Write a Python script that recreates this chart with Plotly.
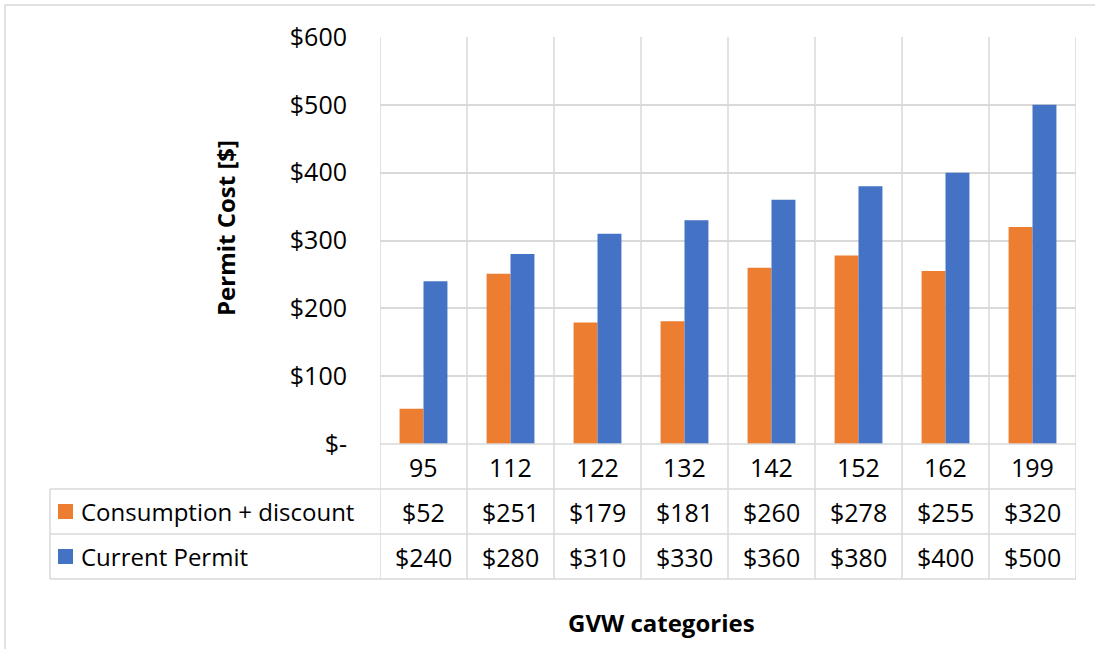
import plotly.graph_objects as go

categories = ["95", "112", "122", "132", "142", "152", "162", "199"]
consumption = [52, 251, 179, 181, 260, 278, 255, 320]
current = [240, 280, 310, 330, 360, 380, 400, 500]
series_names = ["Consumption + discount", "Current Permit"]
series_colors = ["#ED7D31", "#4472C4"]
y_tickvals = [0, 100, 200, 300, 400, 500, 600]
y_ticktext = ["$-", "$100", "$200", "$300", "$400", "$500", "$600"]

W, H = 1095, 649
FONT = "Open Sans"
GRID = "#D9D9D9"

def px(x):
    return x / W

def py(y):
    return 1 - y / H

plot_l, plot_r, plot_t, plot_b = 380, 1076, 37, 444
row_edges = [444, 489, 534, 579]
table_l = 50

fig = go.Figure()
for name, vals, col in zip(series_names, [consumption, current], series_colors):
    fig.add_trace(go.Bar(x=categories, y=vals, name=name, marker_color=col,
                         marker_line_width=0, showlegend=False, hoverinfo="skip"))

shapes = []
# outer chart border
shapes.append(dict(type="rect", xref="paper", yref="paper", x0=px(5), x1=px(1100),
                   y0=py(660), y1=py(5), line=dict(color=GRID, width=1.5)))
n = len(categories)
# vertical lines at category boundaries (through plot + table)
for i in range(n + 1):
    shapes.append(dict(type="line", xref="x", yref="paper", x0=i - 0.5, x1=i - 0.5,
                       y0=py(plot_t), y1=py(row_edges[-1]),
                       line=dict(color=GRID, width=1.5)))
# table horizontal lines
shapes.append(dict(type="line", xref="paper", yref="paper", x0=px(plot_l), x1=px(plot_r),
                   y0=py(row_edges[0]), y1=py(row_edges[0]), line=dict(color=GRID, width=1.5)))
for ry in row_edges[1:]:
    shapes.append(dict(type="line", xref="paper", yref="paper", x0=px(table_l), x1=px(plot_r),
                       y0=py(ry), y1=py(ry), line=dict(color=GRID, width=1.5)))
shapes.append(dict(type="line", xref="paper", yref="paper", x0=px(table_l), x1=px(table_l),
                   y0=py(row_edges[1]), y1=py(row_edges[3]), line=dict(color=GRID, width=1.5)))

annotations = []
numfont = dict(family=FONT, size=25, color="#000000")
txtfont = dict(family=FONT, size=24, color="#000000")
# category row
for i, c in enumerate(categories):
    annotations.append(dict(x=i, y=py((row_edges[0] + row_edges[1]) / 2), xref="x", yref="paper",
                            text=c, showarrow=False, font=numfont, xanchor="center", yanchor="middle"))
# series rows
for r, (name, vals, col) in enumerate(zip(series_names, [consumption, current], series_colors)):
    yc = (row_edges[r + 1] + row_edges[r + 2]) / 2
    shapes.append(dict(type="rect", xref="paper", yref="paper", x0=px(58), x1=px(73),
                       y0=py(yc - 7.5), y1=py(yc + 7.5), fillcolor=col, line=dict(width=0)))
    annotations.append(dict(x=px(79), y=py(yc), xref="paper", yref="paper", text=name,
                            showarrow=False, font=txtfont, xanchor="left", yanchor="middle"))
    for i, v in enumerate(vals):
        annotations.append(dict(x=i, y=py(yc), xref="x", yref="paper", text=f"${v}",
                                showarrow=False, font=numfont, xanchor="center", yanchor="middle"))

# axis titles
titlefont = dict(family=FONT, size=24, color="#000000")
annotations.append(dict(x=px(225), y=py(228), xref="paper", yref="paper", text="<b>Permit Cost [$]</b>",
                        textangle=-90, showarrow=False, font=titlefont,
                        xanchor="center", yanchor="middle"))
annotations.append(dict(x=px(661), y=py(622), xref="paper", yref="paper", text="<b>GVW categories</b>",
                        showarrow=False, font=titlefont,
                        xanchor="center", yanchor="middle"))

fig.update_layout(
    width=W, height=H, autosize=False, margin=dict(l=0, r=0, t=0, b=0, pad=0),
    paper_bgcolor="white", plot_bgcolor="white",
    barmode="group", bargap=0.45, bargroupgap=0,
    shapes=shapes, annotations=annotations, showlegend=False,
    xaxis=dict(domain=[px(plot_l), px(plot_r)], type="category", range=[-0.5, n - 0.5],
               showticklabels=False, showgrid=False, zeroline=False, showline=False, ticks="",
               automargin=False),
    yaxis=dict(domain=[py(plot_b), py(plot_t)], range=[0, 600], tickvals=y_tickvals,
               ticktext=y_ticktext, showgrid=True, gridcolor=GRID, gridwidth=1.5,
               zeroline=False, showline=False, ticks="", ticklabelstandoff=32, automargin=False,
               tickfont=numfont),
)

fig.write_html("out.html", config={"displayModeBar": False},
               post_script="document.body.style.margin='0';")
